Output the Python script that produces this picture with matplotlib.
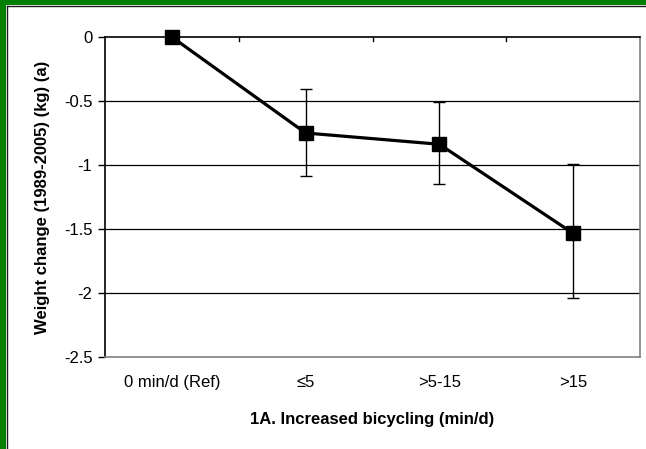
import matplotlib
matplotlib.use("Agg")
import matplotlib.pyplot as plt
from matplotlib.patches import Rectangle
from matplotlib.lines import Line2D

plt.rcParams['font.family'] = ['Liberation Sans', 'DejaVu Sans']

categories = ["0 min/d (Ref)", "\u22645", ">5-15", ">15"]
weight_change = [0.0, -0.75, -0.838, -1.534]
ci_upper = [0.0, -0.406, -0.505, -0.995]
ci_lower = [0.0, -1.083, -1.146, -2.04]
yticks = [0, -0.5, -1, -1.5, -2, -2.5]
ytick_labels = ["0", "-0.5", "-1", "-1.5", "-2", "-2.5"]

W, H = 646, 449
fig = plt.figure(figsize=(W / 100, H / 100), dpi=100)
fig.patch.set_facecolor("white")

ax = fig.add_axes([105 / W, 1 - 357 / H, (640 - 105) / W, (357 - 37) / H])
x = list(range(len(categories)))
yerr_low = [w - l for w, l in zip(weight_change, ci_lower)]
yerr_up = [u - w for w, u in zip(weight_change, ci_upper)]
ax.errorbar(x[1:], weight_change[1:], yerr=[yerr_low[1:], yerr_up[1:]],
            fmt="none", ecolor="black", elinewidth=1.0, capsize=4, capthick=1.0, zorder=3)
ax.plot(x, weight_change, color="black", lw=2.3, marker="s", markersize=10.5,
        markerfacecolor="black", markeredgecolor="black", zorder=4, clip_on=False)

ax.set_xlim(-0.5, len(categories) - 0.5)
ax.set_ylim(-2.5, 0)
ax.set_yticks(yticks)
ax.set_yticklabels(ytick_labels, fontsize=12)
ax.set_xticks(x)
ax.set_xticklabels(categories, fontsize=12)
ax.tick_params(axis="x", length=0, pad=13)
ax.tick_params(axis="y", direction="out", length=5, width=1, pad=4)

for yv in yticks[1:-1]:
    ax.axhline(yv, color="black", lw=0.9, zorder=1)

# category boundary ticks on the top (zero) axis
for b in [0.5, 1.5, 2.5]:
    ax.plot([b, b], [0, -0.035], color="black", lw=1, zorder=2)

ax.spines["top"].set_color("black")
ax.spines["left"].set_color("black")
ax.spines["bottom"].set_color("#808080")
ax.spines["right"].set_color("#808080")
for s in ax.spines.values():
    s.set_linewidth(1.2)

ax.set_xlabel("1A. Increased bicycling (min/d)", fontsize=12, fontweight="bold", labelpad=16)
ax.set_ylabel("Weight change (1989-2005) (kg) (a)", fontsize=12, fontweight="bold", labelpad=10)

# green frame (top and left)
green = "#007f00"
fig.patches.append(Rectangle((0, 1 - 5 / H), 1, 5 / H, transform=fig.transFigure,
                             facecolor=green, edgecolor="none", zorder=0))
fig.patches.append(Rectangle((0, 0), 6 / W, 1, transform=fig.transFigure,
                             facecolor=green, edgecolor="none", zorder=0))
fig.lines.append(Line2D([6.5 / W, 1], [1 - 5.5 / H, 1 - 5.5 / H], transform=fig.transFigure,
                        color="#1a1a1a", lw=1))
fig.lines.append(Line2D([6.5 / W, 6.5 / W], [0, 1 - 5.5 / H], transform=fig.transFigure,
                        color="#1a1a1a", lw=1))

fig.savefig("out.png", dpi=100)
